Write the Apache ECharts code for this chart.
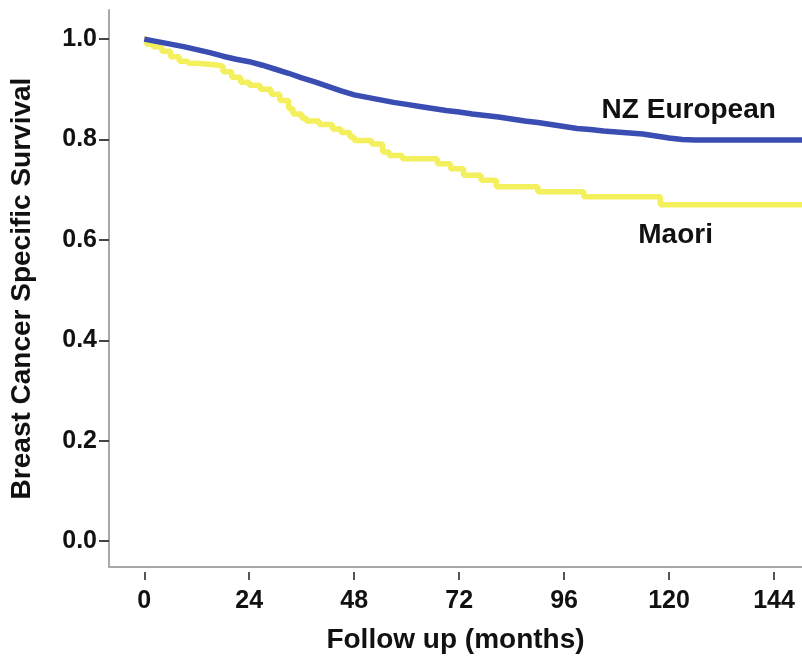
<!DOCTYPE html>
<html>
<head>
<meta charset="utf-8">
<script src="https://cdn.jsdelivr.net/npm/echarts@6/dist/echarts.min.js"></script>
<style>
html,body{margin:0;padding:0;background:#fff;}
#chart{width:802px;height:659px;}
</style>
</head>
<body>
<div id="chart"></div>
<script>
// Kaplan-Meier survival data (months, survival proportion)
const europeanMonths = [0,3,6,9,12,15,18,21,24,27,30,33,36,39,42,45,48,51,54,57,60,63,66,69,72,75,78,81,84,87,90,93,96,99,102,105,108,111,114,117,120,123,126,152];
const europeanSurv   = [1.0,0.995,0.99,0.985,0.979,0.973,0.966,0.96,0.955,0.948,0.94,0.932,0.923,0.915,0.906,0.897,0.889,0.884,0.879,0.874,0.87,0.866,0.862,0.858,0.855,0.851,0.848,0.845,0.841,0.837,0.834,0.83,0.826,0.822,0.82,0.817,0.815,0.813,0.811,0.807,0.803,0.8,0.799,0.799];
const maoriMonths = [0,0.5,2,4,6,8,10,12,16,18,20,22,24,26.5,29,31,33,34,36,37,40,43,45,47,48,52,54.5,56,59,67,70,73,77,80.5,90,100.5,118,152];
const maoriSurv   = [1.0,0.99,0.985,0.976,0.965,0.956,0.952,0.949,0.946,0.935,0.924,0.914,0.908,0.9,0.89,0.878,0.862,0.851,0.843,0.837,0.83,0.821,0.814,0.805,0.798,0.791,0.775,0.768,0.762,0.752,0.742,0.729,0.719,0.706,0.696,0.686,0.67,0.67];
const xTicks = [0,24,48,72,96,120,144];
const yTicks = [0,0.2,0.4,0.6,0.8,1.0];
const seriesNames = ['NZ European','Maori'];
const xTitle = 'Follow up (months)';
const yTitle = 'Breast Cancer Specific Survival';
// label anchors (data space)
const europeanLabelAt = [124.5, 0.858];
const maoriLabelAt = [121.5, 0.610];

const FONT = "'Liberation Sans', Arial, sans-serif";
const chart = echarts.init(document.getElementById('chart'), null, {renderer:'canvas'});
const xMin = -8.07, xMax = 150.4, yMin = -0.0513, yMax = 1.058;

function labelMark(at, text){
  return {
    symbol:'circle', symbolSize:1, silent:true,
    itemStyle:{color:'rgba(0,0,0,0)'},
    label:{show:true, position:'inside', formatter:text, color:'#111', fontSize:28, fontWeight:'bold', fontFamily:FONT},
    data:[{coord:at}]
  };
}

chart.setOption({
  animation:false,
  backgroundColor:'#fff',
  grid:{left:109, top:10, right:0, bottom:87, containLabel:false},
  xAxis:[{
    type:'value', min:xMin, max:xMax,
    axisLine:{show:true, onZero:false, lineStyle:{color:'#a8a8a8', width:2}},
    axisTick:{show:false}, axisLabel:{show:false}, splitLine:{show:false},
    name:xTitle, nameLocation:'middle', nameGap:59,
    nameTextStyle:{color:'#111', fontSize:28, fontWeight:'bold', fontFamily:FONT}
  },{
    type:'value', min:xMin, max:xMax, position:'bottom', offset:5,
    axisLine:{show:false, onZero:false},
    axisTick:{show:true, length:8, customValues:xTicks, lineStyle:{color:'#555', width:2}},
    axisLabel:{show:true, customValues:xTicks, margin:17, color:'#111', fontSize:25, fontWeight:'bold', fontFamily:FONT},
    splitLine:{show:false}
  }],
  yAxis:{
    type:'value', min:yMin, max:yMax,
    axisLine:{show:true, onZero:false, lineStyle:{color:'#a8a8a8', width:2}},
    axisTick:{show:true, length:10, customValues:yTicks, lineStyle:{color:'#444', width:2}},
    axisLabel:{show:true, customValues:yTicks, margin:12, formatter:v=>v.toFixed(1), color:'#111', fontSize:25, fontWeight:'bold', fontFamily:FONT},
    splitLine:{show:false},
    name:yTitle, nameLocation:'middle', nameGap:73, nameRotate:90,
    nameTextStyle:{color:'#111', fontSize:28, fontWeight:'bold', fontFamily:FONT}
  },
  series:[{
    name:seriesNames[0], type:'line', showSymbol:false, clip:true, xAxisIndex:0,
    data:europeanMonths.map((m,i)=>[m,europeanSurv[i]]),
    lineStyle:{color:'#3a4db2', width:5.5}, itemStyle:{color:'#3a4db2'}, z:3,
    markPoint:labelMark(europeanLabelAt, seriesNames[0])
  },{
    name:seriesNames[1], type:'line', step:'end', showSymbol:false, clip:true, xAxisIndex:0,
    data:maoriMonths.map((m,i)=>[m,maoriSurv[i]]),
    lineStyle:{color:'#f4ef5c', width:5.5}, itemStyle:{color:'#f4ef5c'}, z:2,
    markPoint:labelMark(maoriLabelAt, seriesNames[1])
  }]
});
</script>
</body>
</html>
